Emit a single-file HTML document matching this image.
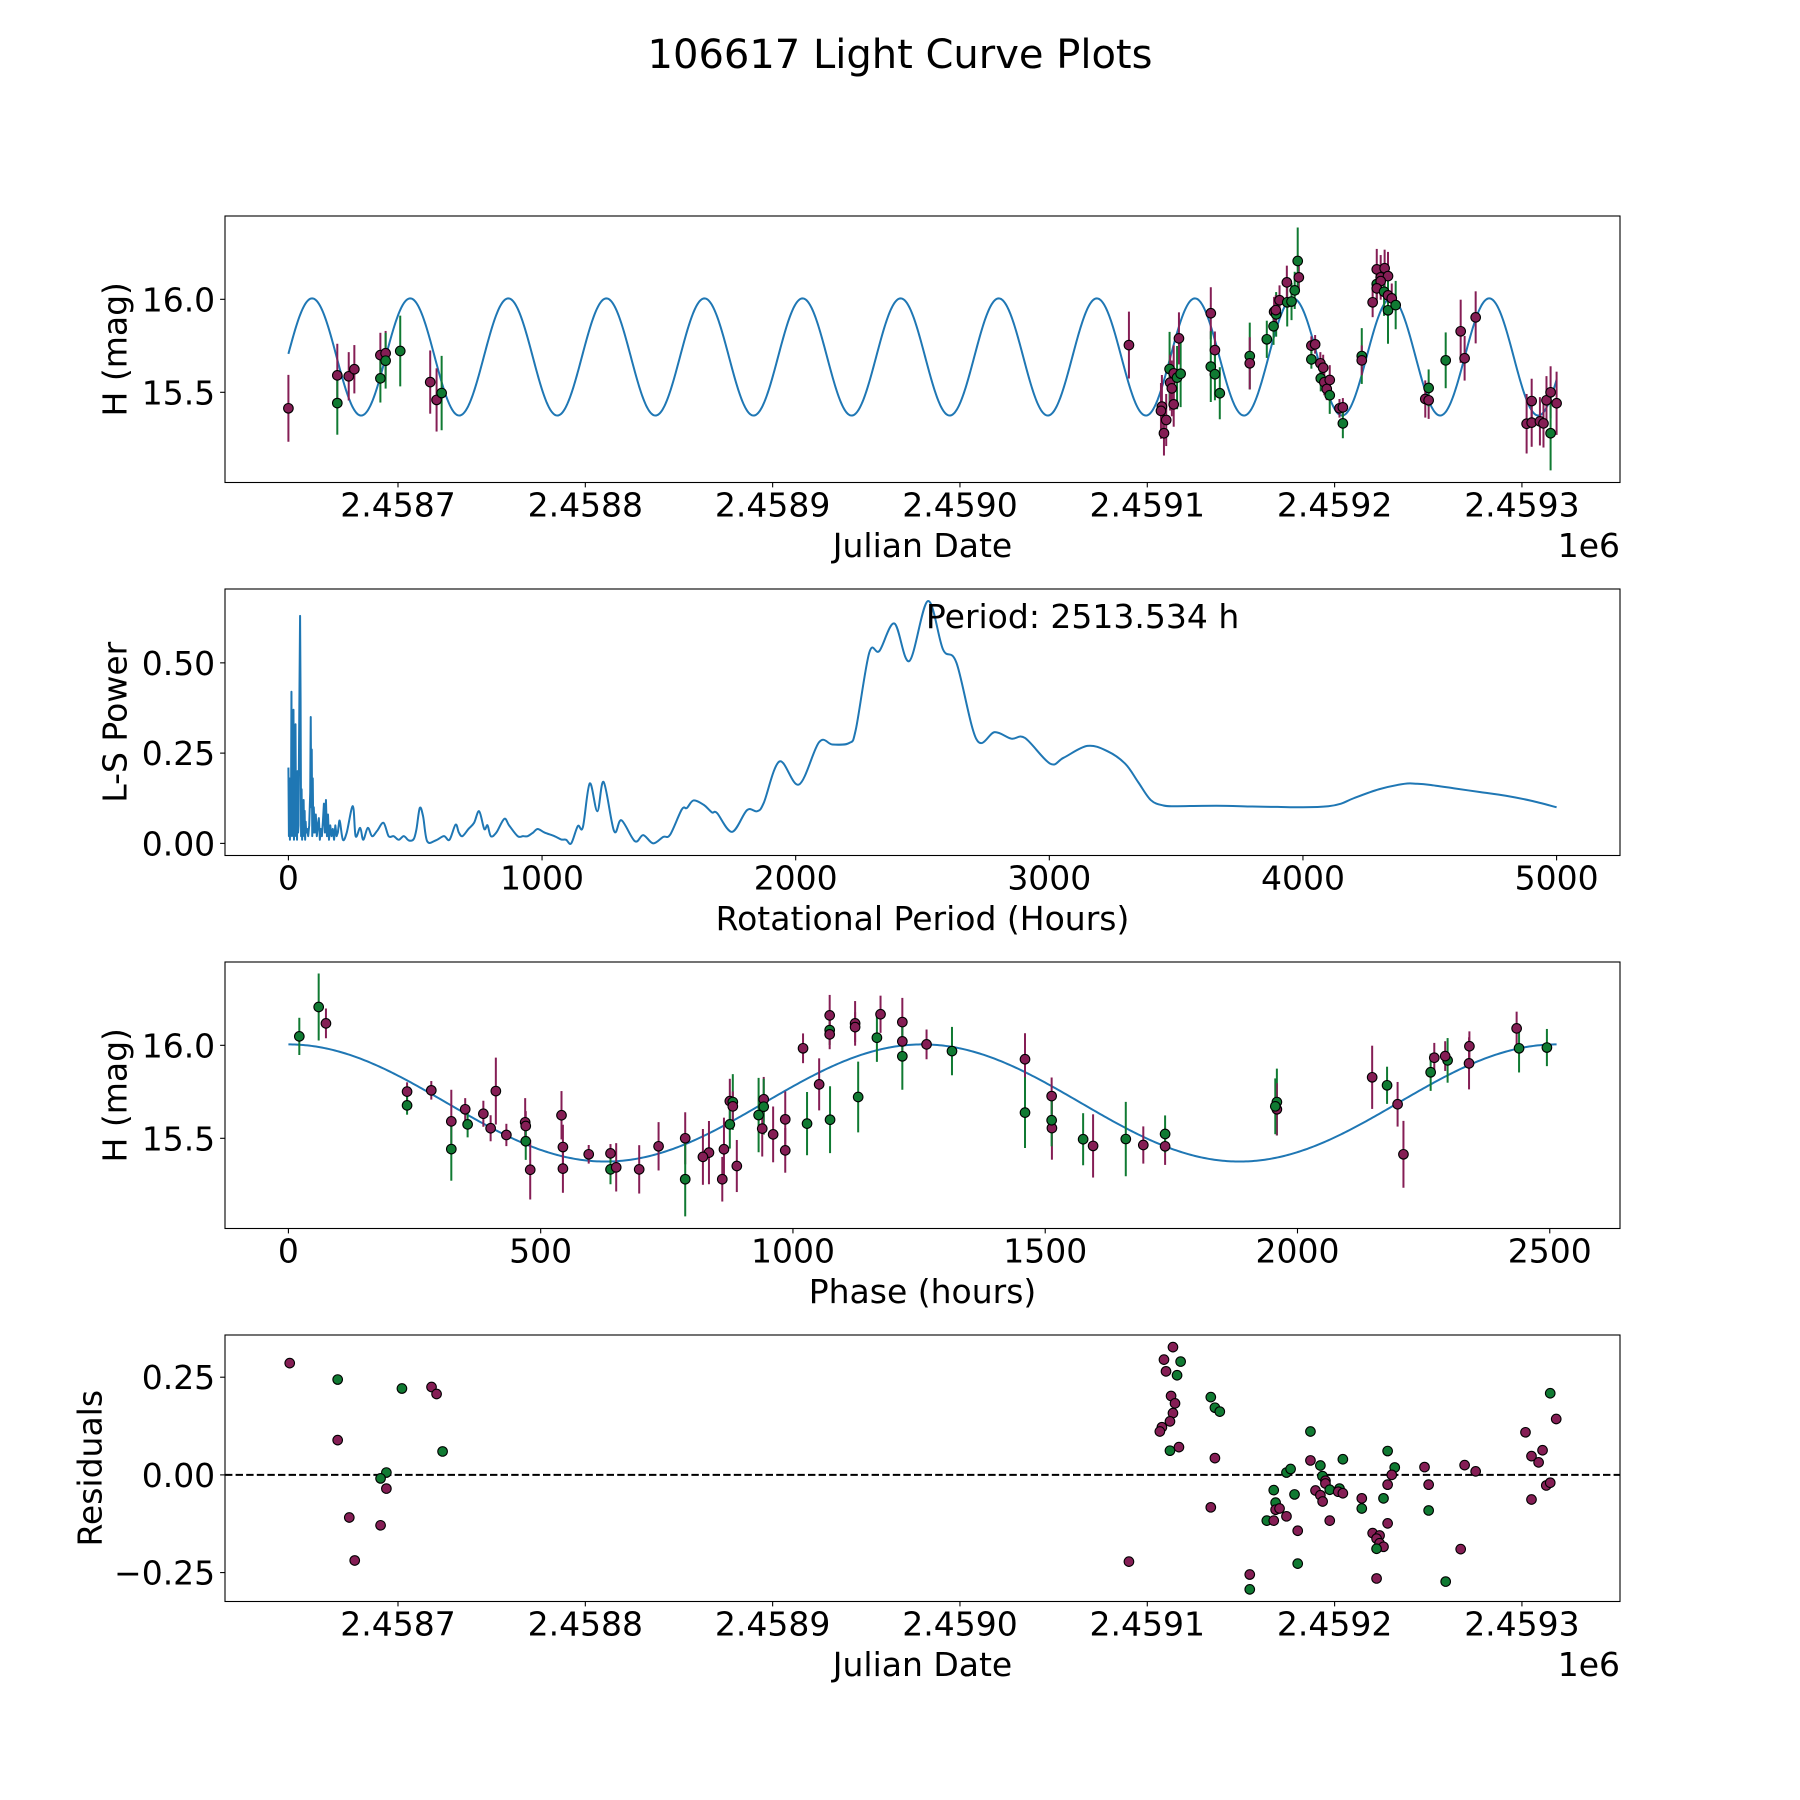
<!DOCTYPE html>
<html><head><meta charset="utf-8"><title>106617 Light Curve Plots</title>
<style>
html,body{margin:0;padding:0;background:#fff;}
svg{display:block;font-family:"DejaVu Sans","Liberation Sans",sans-serif;}
</style></head>
<body>
<svg id="fig" width="1800" height="1800" viewBox="0 0 1800 1800" xmlns="http://www.w3.org/2000/svg">
<rect x="0" y="0" width="1800" height="1800" fill="#fff"/>
<text x="900" y="68" font-size="40" text-anchor="middle" fill="#000">106617 Light Curve Plots</text>
</svg>
<script>
// ---- observation data (JD, magnitude, error, filter) ----
const obsJD = [2458641.5,2458667.6,2458667.6,2458673.7,2458676.7,2458690.6,2458690.6,2458693.4,2458693.4,2458701.2,2458717.2,2458720.6,2458723.3,
2459090.2,2459107.8,2459107.3,2459110.1,2459108.9,2459111.9,2459112.2,2459113.1,2459114.1,2459115.9,2459117.8,2459116.9,2459114.1,
2459133.9,2459136.1,2459133.9,2459136.1,2459138.7,2459154.7,2459154.7,2459163.8,2459167.4,2459167.7,2459168.8,2459168.6,2459170.6,
2459174.7,2459177.0,2459174.5,2459178.7,2459180.9,2459180.3,2459187.6,2459189.6,2459187.6,2459192.4,2459193.9,2459192.6,2459194.5,
2459197.4,2459195.8,2459197.4,2459202.6,2459204.4,2459204.4,2459214.5,2459214.5,
2459220.3,2459222.5,2459226.7,2459224.6,2459228.5,2459222.5,2459224.6,2459222.5,2459226.4,2459228.5,2459230.5,2459228.5,2459232.6,
2459248.4,2459250.2,2459250.2,2459259.3,2459267.3,2459269.4,2459275.3,2459302.5,2459305.2,2459305.2,2459309.6,2459311.5,2459313.1,
2459315.3,2459315.3,2459318.5];
const obsMag = [15.414,15.591,15.442,15.586,15.624,15.70,15.575,15.71,15.67,15.722,15.555,15.459,15.496,
15.754,15.423,15.40,15.351,15.280,15.625,15.552,15.521,15.602,15.579,15.60,15.790,15.435,
15.925,15.727,15.638,15.597,15.495,15.695,15.656,15.785,15.855,15.933,15.919,15.942,15.995,
15.984,15.988,16.091,16.048,16.118,16.206,15.751,15.758,15.677,15.656,15.632,15.575,15.554,
15.566,15.518,15.484,15.414,15.419,15.333,15.695,15.672,
15.984,16.161,16.167,16.118,16.125,16.082,16.098,16.059,16.041,16.021,16.005,15.941,15.969,
15.464,15.457,15.523,15.672,15.828,15.683,15.903,15.331,15.337,15.453,15.344,15.333,15.457,
15.50,15.28,15.441];
const obsErr = [0.18,0.17,0.17,0.13,0.13,0.12,0.13,0.12,0.15,0.19,0.17,0.17,0.20,
0.18,0.17,0.15,0.14,0.12,0.20,0.15,0.15,0.15,0.17,0.18,0.14,0.12,
0.14,0.10,0.19,0.14,0.14,0.18,0.14,0.10,0.10,0.08,0.12,0.08,0.08,
0.13,0.10,0.09,0.10,0.08,0.18,0.05,0.05,0.05,0.06,0.07,0.07,0.07,
0.08,0.06,0.10,0.05,0.05,0.08,0.15,0.08,
0.08,0.11,0.10,0.12,0.13,0.08,0.08,0.08,0.13,0.11,0.08,0.18,0.13,
0.10,0.10,0.10,0.15,0.17,0.12,0.14,0.16,0.13,0.12,0.13,0.13,0.13,
0.14,0.20,0.17];
const obsBand = ["m","m","g","m","m","m","g","m","g","g","m","m","g",
"m","m","m","m","m","g","m","m","m","g","g","m","m",
"m","m","g","g","g","g","m","g","g","m","g","m","m",
"g","g","m","g","m","g","m","m","g","m","m","g","m",
"m","m","g","m","m","g","g","m",
"m","m","m","m","m","g","m","m","g","m","m","g","g",
"m","m","g","g","m","m","m","m","m","m","m","m","m",
"m","g","m"];

// ---- fitted model parameters ----
const periodHours = 2513.534;
const modelMean = 15.69;
const modelAmp = 0.315;
const epochJD = 2459177.8;

// ---- periodogram ----
const lsPeriod = [0,2,4,6,8,10,12,14,16,18,20,22,24,26,28,30,32,34,36,38,40,42,44,46,48,50,52,54,56,58,60,62,64,66,68,70,74,78,82,86,88,90,92,94,96,98,100,104,108,112,116,120,124,128,132,136,140,144,148,152,156,160,165,170,175,180,185,190,195,200,
204,215,230,254,265,283,295,313,330,350,375,395,415,435,455,475,494,505,518,531,547,580,613,635,659,672,686,710,732,752,772,785,798,820,851,870,904,925,943,965,983,1010,1049,1075,1095,1115,
1141,1161,1188,1218,1243,1284,1313,1366,1399,1438,1478,1505,1551,1571,1597,1637,1670,1690,1749,1808,1848,1874,1936,2013,2092,2145,2211,2237,2290,2330,2389,2448,2521,2581,2634,2713,2785,2851,2904,3003,3056,
3150,3230,3300,3350,3400,3450,3500,3600,3700,3800,3900,4000,4100,4150,4200,4300,4400,4450,4500,4600,4700,4800,4900,5000];
const lsPower = [0.21,0.02,0.18,0.01,0.15,0.03,0.42,0.02,0.30,0.05,0.37,0.01,0.25,0.04,0.33,0.02,0.12,0.01,0.20,0.03,0.05,0.28,0.46,0.63,0.40,0.02,0.15,0.01,0.10,0.04,0.12,0.02,0.09,0.01,0.06,0.03,0.04,0.02,0.05,0.14,0.35,0.10,0.26,0.02,0.18,0.03,0.10,0.03,0.08,0.02,0.05,0.07,0.01,0.04,0.02,0.06,0.11,0.03,0.12,0.02,0.08,0.01,0.05,0.02,0.04,0.01,0.05,0.02,0.03,0.06,
0.057,0.01,0.03,0.103,0.02,0.043,0.01,0.043,0.02,0.035,0.057,0.02,0.02,0.01,0.02,0.008,0.012,0.04,0.098,0.075,0.006,0.008,0.02,0.01,0.052,0.03,0.02,0.04,0.057,0.089,0.040,0.05,0.02,0.03,0.068,0.05,0.02,0.02,0.02,0.03,0.04,0.03,0.02,0.011,0.01,0.0,
0.048,0.045,0.166,0.089,0.170,0.034,0.064,0.006,0.023,0.0,0.018,0.024,0.094,0.098,0.119,0.107,0.086,0.084,0.032,0.092,0.089,0.112,0.227,0.163,0.280,0.274,0.278,0.315,0.528,0.533,0.609,0.505,0.671,0.537,0.500,0.288,0.308,0.290,0.292,0.221,0.237,
0.27,0.255,0.22,0.17,0.12,0.105,0.103,0.104,0.104,0.102,0.101,0.100,0.103,0.110,0.125,0.150,0.165,0.165,0.162,0.152,0.142,0.132,0.118,0.100];
const peakLabel = "Period: 2513.534 h";

// ---- residuals ----
const resJD = [2458642.2,2458667.8,2458667.8,2458702.1,2458717.9,2458720.6,2458723.8,2458693.8,2458690.7,2458693.8,2458674.0,2458690.7,2458676.9,
2459090.2,2459113.7,2459108.9,2459117.8,2459110.0,2459115.9,2459112.7,2459114.8,2459113.7,2459112.1,2459107.8,2459106.7,2459112.1,2459116.9,
2459133.9,2459136.1,2459138.7,2459136.1,2459133.9,2459154.7,2459154.7,2459163.8,2459167.5,2459167.5,2459168.5,2459168.5,2459170.6,2459174.3,2459174.3,2459176.5,2459178.6,2459180.3,2459180.3,
2459187.1,2459187.1,2459192.4,2459193.5,2459195.1,2459195.1,2459189.8,2459192.4,2459193.6,2459197.4,2459197.4,2459202.6,2459201.9,2459204.4,2459204.4,
2459228.3,2459232.1,2459230.5,2459228.3,2459214.5,2459214.5,2459226.1,2459228.3,2459220.3,2459224.0,2459222.4,2459224.0,2459226.1,2459222.4,2459222.4,
2459248.0,2459250.2,2459250.2,2459267.3,2459259.3,2459269.4,2459275.3,2459301.9,2459305.1,2459308.9,2459311.0,2459305.1,2459313.0,2459315.1,2459315.1,2459318.3];
const resVal = [0.286,0.244,0.089,0.221,0.225,0.207,0.060,0.006,-0.009,-0.035,-0.109,-0.129,-0.219,
-0.222,0.327,0.295,0.290,0.265,0.255,0.202,0.183,0.158,0.137,0.122,0.111,0.062,0.071,
0.199,0.172,0.162,0.043,-0.083,-0.255,-0.293,-0.117,-0.117,-0.039,-0.071,-0.089,-0.086,-0.106,0.006,0.015,-0.050,-0.143,-0.227,
0.111,0.037,0.024,-0.003,-0.015,-0.022,-0.040,-0.052,-0.068,-0.038,-0.117,-0.035,-0.043,-0.047,0.040,
0.061,0.019,0.0,-0.025,-0.060,-0.086,-0.060,-0.124,-0.149,-0.155,-0.163,-0.175,-0.184,-0.189,-0.265,
0.020,-0.025,-0.091,-0.190,-0.273,0.025,0.009,0.109,0.048,0.032,0.063,-0.063,-0.027,-0.020,0.209,0.143];
const resBand = ["m","g","m","g","m","m","g","g","g","m","m","m","m",
"m","m","m","g","m","g","m","m","m","m","m","m","g","m",
"g","g","g","m","m","m","g","g","m","g","g","m","m","m","g","g","g","m","g",
"g","m","g","g","m","m","m","m","m","g","m","g","m","m","g",
"g","g","m","m","m","g","g","m","m","m","m","m","m","g","m",
"m","m","g","m","g","m","m","m","m","m","m","m","m","m","g","m"];

// ---- tick labels ----
const jdTicks = [2458700,2458800,2458900,2459000,2459100,2459200,2459300];
const jdTickLabels = ["2.4587","2.4588","2.4589","2.4590","2.4591","2.4592","2.4593"];
const magTicks = [15.5,16.0];
const magTickLabels = ["15.5","16.0"];
const lsXTicks = [0,1000,2000,3000,4000,5000];
const lsXTickLabels = ["0","1000","2000","3000","4000","5000"];
const lsYTicks = [0,0.25,0.5];
const lsYTickLabels = ["0.00","0.25","0.50"];
const phTicks = [0,500,1000,1500,2000,2500];
const phTickLabels = ["0","500","1000","1500","2000","2500"];
const resTicks = [-0.25,0,0.25];
const resTickLabels = ["\u22120.25","0.00","0.25"];

const NS = "http://www.w3.org/2000/svg";
const svg = document.getElementById("fig");
const L = 225, R = 1620;
const COL = {m:"#851e55", g:"#107a32"};
const LINE = "#1f77b4";

function mk(tag, attrs, parent) {
  const e = document.createElementNS(NS, tag);
  for (const k in attrs) e.setAttribute(k, attrs[k]);
  (parent || svg).appendChild(e);
  return e;
}
function lin(d0, d1, r0, r1) { return v => r0 + (v - d0) * (r1 - r0) / (d1 - d0); }
function model(jd) {
  return modelMean + modelAmp * Math.cos(2 * Math.PI * (jd - epochJD) * 24 / (periodHours / 2));
}
function phaseOf(jd) {
  let p = ((jd - epochJD) * 24) % periodHours;
  if (p < 0) p += periodHours;
  return p;
}

function axesFrame(top, bot, name) {
  const g = mk("g", {});
  
  
  const r = mk("rect", {x: L, y: top, width: R - L, height: bot - top, fill: "none", stroke: "#000", "stroke-width": 1.1}, g);
  
  
  return g;
}
function xTicks(g, sx, bot, ticks, labels, name) {
  ticks.forEach((t, i) => {
    const x = sx(t);
    const tk = mk("line", {x1: x, x2: x, y1: bot, y2: bot + 4.9, stroke: "#000", "stroke-width": 1.1}, g);
    
    
    const tx = mk("text", {x: x, y: bot + 34, "font-size": 33, "text-anchor": "middle"}, g);
    
    
    tx.textContent = labels[i];
  });
}
function yTicks(g, sy, ticks, labels, name) {
  ticks.forEach((t, i) => {
    const y = sy(t);
    const tk = mk("line", {x1: L - 4.9, x2: L, y1: y, y2: y, stroke: "#000", "stroke-width": 1.1}, g);
    
    
    const tx = mk("text", {x: L - 9.8, y: y + 12, "font-size": 33, "text-anchor": "end"}, g);
    
    
    tx.textContent = labels[i];
  });
}
function xLabel(g, text, bot, name) {
  const t = mk("text", {x: (L + R) / 2, y: bot + 74.5, "font-size": 33, "text-anchor": "middle"}, g);
  
  
  t.textContent = text;
}
function yLabel(g, text, top, bot, x, name) {
  const cy = (top + bot) / 2;
  const t = mk("text", {x: x, y: cy, "font-size": 33, "text-anchor": "middle", "dominant-baseline": "central", transform: "rotate(-90 " + x + " " + cy + ")"}, g);
  
  
  t.textContent = text;
}
function marker(g, x, y, band, name) {
  const c = mk("circle", {cx: x, cy: y, r: 4.8, fill: COL[band], stroke: "#000", "stroke-width": 1.1}, g);
  
  
}
function errbar(g, x, y1, y2, band, name) {
  const l = mk("line", {x1: x, x2: x, y1: y1, y2: y2, stroke: COL[band], "stroke-width": 2}, g);
  
  
}

// ---- panel geometry ----
const P1 = [216, 482.5], P2 = [589, 855.5], P3 = [962, 1228.5], P4 = [1335, 1601.5];
const jdMin = Math.min(...obsJD), jdMax = Math.max(...obsJD);
const jdPad = (jdMax - jdMin) * 0.05;
const sxJD = lin(jdMin - jdPad, jdMax + jdPad, L, R);
const magLo = 15.015, magHi = 16.448;

// ---- Panel 1: light curve ----
(function () {
  const g = axesFrame(P1[0], P1[1], "light-curve-panel");
  const sy = lin(magLo, magHi, P1[1], P1[0]);
  let d = "";
  const N = 1500;
  for (let i = 0; i <= N; i++) {
    const jd = jdMin + (jdMax - jdMin) * i / N;
    d += (i ? "L" : "M") + sxJD(jd).toFixed(2) + "," + sy(model(jd)).toFixed(2);
  }
  const p = mk("path", {d: d, fill: "none", stroke: LINE, "stroke-width": 2}, g);
  
  
  obsJD.forEach((jd, i) => errbar(g, sxJD(jd), sy(obsMag[i] - obsErr[i]), sy(obsMag[i] + obsErr[i]), obsBand[i], 'error-bar'));
  obsJD.forEach((jd, i) => marker(g, sxJD(jd), sy(obsMag[i]), obsBand[i], 'observation-point'));
  xTicks(g, sxJD, P1[1], jdTicks, jdTickLabels, "x-axis");
  yTicks(g, sy, magTicks, magTickLabels, "y-axis");
  xLabel(g, "Julian Date", P1[1], "x-axis-title");
  yLabel(g, "H (mag)", P1[0], P1[1], 115, "y-axis-title");
  const off = mk("text", {x: R, y: P1[1] + 74.5, "font-size": 33, "text-anchor": "end"}, g);
  
  
  off.textContent = "1e6";
})();

// ---- Panel 2: periodogram ----
(function () {
  const g = axesFrame(P2[0], P2[1], "periodogram-panel");
  const pMax = Math.max(...lsPeriod), wMax = Math.max(...lsPower);
  const sx = lin(-pMax * 0.05, pMax * 1.05, L, R);
  const sy = lin(-wMax * 0.05, wMax * 1.05, P2[1], P2[0]);
  const pts = lsPeriod.map((p, i) => [sx(p), sy(lsPower[i])]);
  let d = "M" + pts[0][0].toFixed(2) + "," + pts[0][1].toFixed(2);
  for (let i = 0; i < pts.length - 1; i++) {
    const p0 = pts[Math.max(0, i - 1)], p1 = pts[i], p2 = pts[i + 1], p3 = pts[Math.min(pts.length - 1, i + 2)];
    if (lsPeriod[i] < 200) { d += "L" + p2[0].toFixed(2) + "," + p2[1].toFixed(2); continue; }
    const c1 = [p1[0] + (p2[0] - p0[0]) / 6, p1[1] + (p2[1] - p0[1]) / 6];
    const c2 = [p2[0] - (p3[0] - p1[0]) / 6, p2[1] - (p3[1] - p1[1]) / 6];
    d += "C" + c1[0].toFixed(2) + "," + c1[1].toFixed(2) + " " + c2[0].toFixed(2) + "," + c2[1].toFixed(2) + " " + p2[0].toFixed(2) + "," + p2[1].toFixed(2);
  }
  const path = mk("path", {d: d, fill: "none", stroke: LINE, "stroke-width": 2, "stroke-linejoin": "round"}, g);
  
  
  const t = mk("text", {x: sx(periodHours), y: P2[0] + 39, "font-size": 33}, g);
  
  
  t.textContent = peakLabel;
  xTicks(g, sx, P2[1], lsXTicks, lsXTickLabels, "x-axis");
  yTicks(g, sy, lsYTicks, lsYTickLabels, "y-axis");
  xLabel(g, "Rotational Period (Hours)", P2[1], "x-axis-title");
  yLabel(g, "L-S Power", P2[0], P2[1], 115, "y-axis-title");
})();

// ---- Panel 3: phase-folded ----
(function () {
  const g = axesFrame(P3[0], P3[1], "phase-panel");
  const sx = lin(-periodHours * 0.05, periodHours * 1.05, L, R);
  const sy = lin(magLo, magHi, P3[1], P3[0]);
  let d = "";
  const N = 600;
  for (let i = 0; i <= N; i++) {
    const ph = periodHours * i / N;
    d += (i ? "L" : "M") + sx(ph).toFixed(2) + "," + sy(model(epochJD + ph / 24)).toFixed(2);
  }
  const p = mk("path", {d: d, fill: "none", stroke: LINE, "stroke-width": 2}, g);
  
  
  obsJD.forEach((jd, i) => errbar(g, sx(phaseOf(jd)), sy(obsMag[i] - obsErr[i]), sy(obsMag[i] + obsErr[i]), obsBand[i], 'phase-error-bar'));
  obsJD.forEach((jd, i) => marker(g, sx(phaseOf(jd)), sy(obsMag[i]), obsBand[i], 'phase-point'));
  xTicks(g, sx, P3[1], phTicks, phTickLabels, "x-axis");
  yTicks(g, sy, magTicks, magTickLabels, "y-axis");
  xLabel(g, "Phase (hours)", P3[1], "x-axis-title");
  yLabel(g, "H (mag)", P3[0], P3[1], 115, "y-axis-title");
})();

// ---- Panel 4: residuals ----
(function () {
  const g = axesFrame(P4[0], P4[1], "residuals-panel");
  const rMin = Math.min(...resVal), rMax = Math.max(...resVal);
  const rPad = (rMax - rMin) * 0.05;
  const sy = lin(rMin - rPad, rMax + rPad, P4[1], P4[0]);
  const z = mk("line", {x1: L, x2: R, y1: sy(0), y2: sy(0), stroke: "#000", "stroke-width": 2, "stroke-dasharray": "7.4,3.2"}, g);
  
  
  resJD.forEach((jd, i) => marker(g, sxJD(jd), sy(resVal[i]), resBand[i], 'residual-point'));
  xTicks(g, sxJD, P4[1], jdTicks, jdTickLabels, "x-axis");
  yTicks(g, sy, resTicks, resTickLabels, "y-axis");
  xLabel(g, "Julian Date", P4[1], "x-axis-title");
  yLabel(g, "Residuals", P4[0], P4[1], 90, "y-axis-title");
  const off = mk("text", {x: R, y: P4[1] + 74.5, "font-size": 33, "text-anchor": "end"}, g);
  
  
  off.textContent = "1e6";
})();
</script>
</body></html>
